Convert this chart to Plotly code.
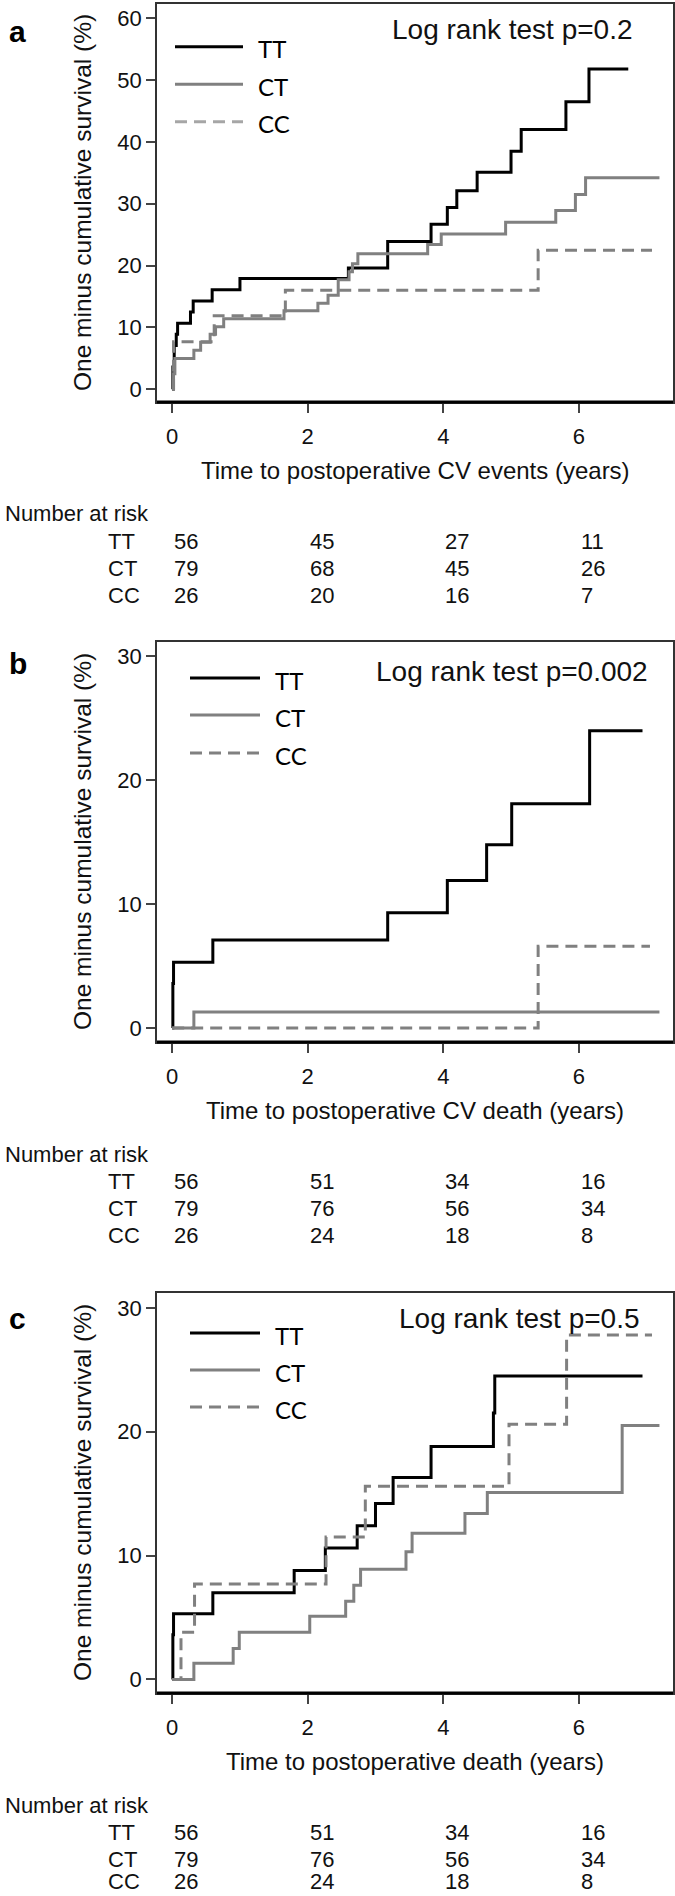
import plotly.graph_objects as go

W, H = 675, 1896

# ---- data (years, % one minus survival) ----
a_tt_t = [0, 0.01, 0.03, 0.06, 0.08, 0.27, 0.31, 0.59, 1.0, 2.6, 3.18, 3.82, 4.06, 4.2, 4.5, 5.0, 5.15, 5.81, 6.15, 6.73]
a_tt_v = [0, 3.6, 7.1, 8.9, 10.7, 12.5, 14.3, 16.1, 17.9, 19.6, 23.9, 26.7, 29.4, 32.1, 35.1, 38.5, 42.0, 46.5, 51.8, 51.8]
a_ct_t = [0, 0.02, 0.04, 0.32, 0.42, 0.56, 0.64, 0.76, 1.65, 2.15, 2.3, 2.45, 2.61, 2.66, 2.74, 3.77, 3.97, 4.92, 5.66, 5.95, 6.1, 7.19]
a_ct_v = [0, 2.5, 5.0, 6.3, 7.6, 8.9, 10.1, 11.4, 12.7, 13.9, 15.2, 17.7, 19.0, 20.3, 21.9, 23.4, 25.1, 27.0, 28.9, 31.5, 34.2, 34.2]
a_cc_t = [0, 0.02, 0.62, 1.67, 5.4, 7.08]
a_cc_v = [0, 7.7, 11.9, 16.0, 22.5, 22.5]

b_tt_t = [0, 0.01, 0.02, 0.6, 3.18, 4.06, 4.64, 5.01, 6.16, 6.94]
b_tt_v = [0, 3.6, 5.3, 7.1, 9.3, 11.9, 14.8, 18.1, 24.0, 24.0]
b_ct_t = [0, 0.32, 7.19]
b_ct_v = [0, 1.3, 1.3]
b_cc_t = [0, 5.4, 7.05]
b_cc_v = [0, 6.6, 6.6]

c_tt_t = [0, 0.01, 0.02, 0.6, 1.8, 2.26, 2.73, 3.0, 3.26, 3.82, 4.74, 4.76, 6.94]
c_tt_v = [0, 3.6, 5.3, 7.0, 8.8, 10.6, 12.4, 14.2, 16.3, 18.8, 21.5, 24.5, 24.5]
c_ct_t = [0, 0.32, 0.9, 0.99, 2.03, 2.56, 2.68, 2.78, 3.45, 3.54, 4.32, 4.65, 6.64, 7.19]
c_ct_v = [0, 1.3, 2.5, 3.8, 5.1, 6.3, 7.6, 8.9, 10.3, 11.8, 13.4, 15.1, 20.5, 20.5]
c_cc_t = [0, 0.13, 0.33, 2.27, 2.85, 4.97, 5.82, 7.08]
c_cc_v = [0, 3.8, 7.7, 11.5, 15.6, 20.6, 27.8, 27.8]

groups = ["TT", "CT", "CC"]
risk_times = [0, 2, 4, 6]
a_risk = [[56, 45, 27, 11], [79, 68, 45, 26], [26, 20, 16, 7]]
b_risk = [[56, 51, 34, 16], [79, 76, 56, 34], [26, 24, 18, 8]]
c_risk = [[56, 51, 34, 16], [79, 76, 56, 34], [26, 24, 18, 8]]

x_titles = ["Time to postoperative CV events (years)",
            "Time to postoperative CV death (years)",
            "Time to postoperative death (years)"]
p_texts = ["Log rank test p=0.2", "Log rank test p=0.002", "Log rank test p=0.5"]
letters = ["a", "b", "c"]

GRAY = "#808080"
FONT = "Liberation Sans, Arial, sans-serif"
TXT = "#111"
DY = 2  # nudge so cap-height centres land where the reference has them


def py(p):
    return 1 - p / H


def px(p):
    return p / W


panels = [
    dict(curves=[(a_tt_t, a_tt_v), (a_ct_t, a_ct_v), (a_cc_t, a_cc_v)], risk=a_risk,
         frame=(4, 402), yrange=[-2.05, 62.3], yticks=[0, 10, 20, 30, 40, 50, 60],
         leg_x=(175, 243, 256), leg_y=(46.7, 84.3, 121.7), p_pos=(635, 27), letter_y=29,
         cc_leg="#a6a6a6"),
    dict(curves=[(b_tt_t, b_tt_v), (b_ct_t, b_ct_v), (b_cc_t, b_cc_v)], risk=b_risk,
         frame=(642, 1042), yrange=[-1.13, 31.16], yticks=[0, 10, 20, 30],
         leg_x=(190, 260, 273), leg_y=(678, 715, 753), p_pos=(650, 669), letter_y=662,
         cc_leg=GRAY),
    dict(curves=[(c_tt_t, c_tt_v), (c_ct_t, c_ct_v), (c_cc_t, c_cc_v)], risk=c_risk,
         frame=(1293, 1693), yrange=[-1.1, 31.2], yticks=[0, 10, 20, 30],
         leg_x=(190, 260, 273), leg_y=(1333, 1370, 1407), p_pos=(642, 1316), letter_y=1316,
         cc_leg=GRAY),
]

styles = [dict(color="black", width=3),
          dict(color=GRAY, width=3),
          dict(color=GRAY, width=3, dash="12px,7px")]

fig = go.Figure()
annotations = []
shapes = []
layout = {}

for i, pnl in enumerate(panels):
    k = "" if i == 0 else str(i + 1)
    xa, ya = "x" + k, "y" + k
    top, bot = pnl["frame"]

    for (t, v), st in zip(pnl["curves"], styles):
        fig.add_trace(go.Scatter(x=t, y=v, mode="lines", line=dict(shape="hv", **st),
                                 xaxis=xa, yaxis=ya, showlegend=False, hoverinfo="skip"))

    axis_common = dict(showline=True, mirror=True, linecolor="#333", linewidth=1.5,
                       ticks="outside", ticklen=9, tickwidth=1.5, tickcolor="#444",
                       showgrid=False, zeroline=False,
                       tickfont=dict(family=FONT, size=22, color=TXT))
    layout["xaxis" + k] = dict(axis_common, domain=[px(157), px(673)], range=[-0.224, 7.39],
                               tickvals=risk_times, anchor=ya, ticklabelstandoff=5)
    layout["yaxis" + k] = dict(axis_common, domain=[py(bot), py(top)], range=pnl["yrange"],
                               tickvals=pnl["yticks"], anchor=xa, ticklabelstandoff=0)

    # heavier bottom edge of the frame
    shapes.append(dict(type="line", xref=xa + " domain", yref=ya + " domain",
                       x0=0, x1=1, y0=0, y1=0, line=dict(color="black", width=3)))

    # legend drawn by hand (long sample lines, like the original)
    x0, x1, xt = pnl["leg_x"]
    for j, (g, st) in enumerate(zip(groups, styles)):
        ln = dict(st)
        if j == 2:
            ln["color"] = pnl["cc_leg"]
        shapes.append(dict(type="line", xref="paper", yref="paper",
                           x0=px(x0), x1=px(x1), y0=py(pnl["leg_y"][j]), y1=py(pnl["leg_y"][j]),
                           line=ln))
        annotations.append(dict(text=g, xref="paper", yref="paper", x=px(xt),
                                y=py(pnl["leg_y"][j] + DY),
                                xanchor="left", yanchor="middle", showarrow=False,
                                font=dict(family="Lato, Open Sans, sans-serif", size=24, color="black")))

    annotations.append(dict(text=p_texts[i], xref="paper", yref="paper",
                            x=px(pnl["p_pos"][0]), y=py(pnl["p_pos"][1] + DY),
                            xanchor="right", yanchor="middle", showarrow=False,
                            font=dict(family=FONT, size=28, color=TXT)))
    annotations.append(dict(text="<b>%s</b>" % letters[i], xref="paper", yref="paper",
                            x=px(7), y=py(pnl["letter_y"] + DY), xanchor="left", yanchor="middle",
                            showarrow=False, font=dict(family=FONT, size=30, color="black")))
    annotations.append(dict(text="One minus cumulative survival (%)", xref="paper", yref=ya + " domain",
                            x=px(82), y=0.5, textangle=-90, xanchor="center", yanchor="middle",
                            showarrow=False, font=dict(family=FONT, size=24.5, color=TXT)))
    annotations.append(dict(text=x_titles[i], xref=xa + " domain", yref="paper",
                            x=0.5, y=py(bot + 66 + DY), xanchor="center", yanchor="middle",
                            showarrow=False, font=dict(family=FONT, size=24, color=TXT)))

    # number-at-risk table
    annotations.append(dict(text="Number at risk", xref="paper", yref="paper",
                            x=px(3), y=py(bot + 110 + DY), xanchor="left", yanchor="middle",
                            showarrow=False, font=dict(family=FONT, size=22, color=TXT)))
    for j, g in enumerate(groups):
        # keep the last row's text box inside the page
        yy = py(min(bot + 137 + 27 * j + DY, H - 15))
        annotations.append(dict(text=g, xref="paper", yref="paper", x=px(106), y=yy,
                                xanchor="left", yanchor="middle", showarrow=False,
                                font=dict(family=FONT, size=22, color=TXT)))
        for t, n in zip(risk_times, pnl["risk"][j]):
            annotations.append(dict(text=str(n), xref=xa, yref="paper", x=t, y=yy,
                                    xanchor="left", yanchor="middle", showarrow=False,
                                    font=dict(family=FONT, size=22, color=TXT)))

fig.update_layout(
    width=W, height=H,
    margin=dict(l=0, r=0, t=0, b=0),
    paper_bgcolor="white", plot_bgcolor="white",
    annotations=annotations, shapes=shapes,
    **layout
)

# drop the browser's default 8px body margin so the figure fills the window
fig.write_html("out.html", config={"displayModeBar": False},
               post_script="document.body.style.margin='0';")
